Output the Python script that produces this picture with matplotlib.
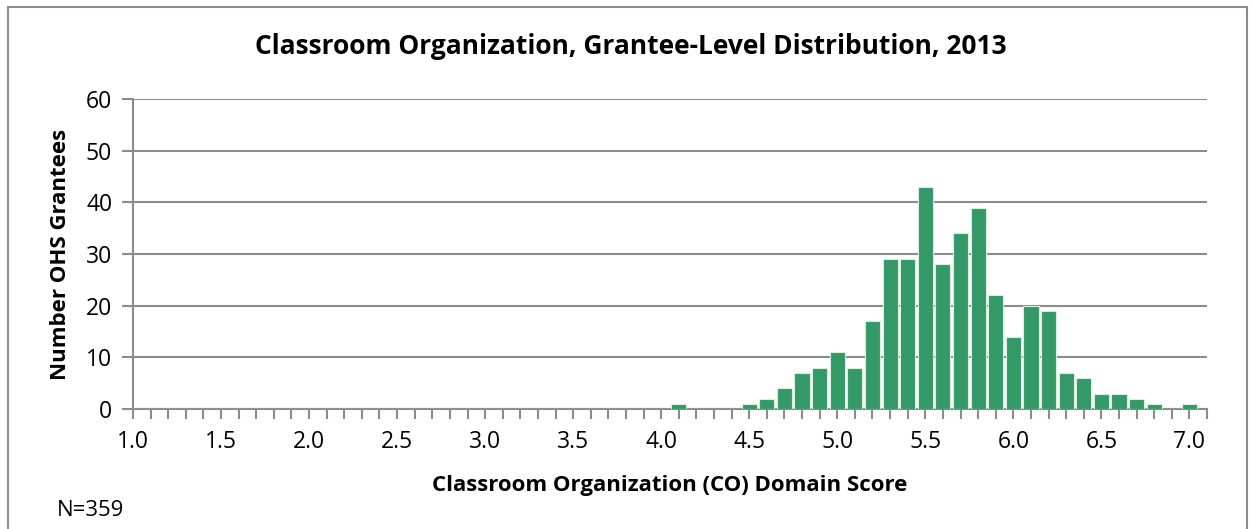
import matplotlib
matplotlib.use("Agg")
import matplotlib.pyplot as plt
from matplotlib.patches import Rectangle
import numpy as np

plt.rcParams['font.family'] = ['Open Sans', 'DejaVu Sans']

scores = [round(1.0 + 0.1 * i, 1) for i in range(61)]
counts_nonzero = {4.1: 1, 4.5: 1, 4.6: 2, 4.7: 4, 4.8: 7, 4.9: 8, 5.0: 11, 5.1: 8,
                  5.2: 17, 5.3: 29, 5.4: 29, 5.5: 43, 5.6: 28, 5.7: 34, 5.8: 39,
                  5.9: 22, 6.0: 14, 6.1: 20, 6.2: 19, 6.3: 7, 6.4: 6, 6.5: 3,
                  6.6: 3, 6.7: 2, 6.8: 1, 6.9: 0, 7.0: 1}
counts = [counts_nonzero.get(s, 0) for s in scores]
xtick_labels = ["1.0", "1.5", "2.0", "2.5", "3.0", "3.5", "4.0", "4.5", "5.0", "5.5", "6.0", "6.5", "7.0"]
yticks = [0, 10, 20, 30, 40, 50, 60]

W, H = 1252, 529
fig = plt.figure(figsize=(W / 100, H / 100), dpi=100)
ax = fig.add_axes([133 / W, 1 - 409 / H, (1207 - 133) / W, (409 - 99) / H])

grid_c = '#8c8c8c'
ax.bar(scores, counts, width=0.086, color='#339966', edgecolor='#d8eee0', linewidth=0.8, zorder=3)
ax.set_xlim(1.0, 7.1)
ax.set_ylim(0, 60)
ax.set_yticks(yticks)
ax.set_yticklabels([str(v) for v in yticks], fontsize=16.5)
ax.yaxis.grid(True, color=grid_c, linewidth=1.5, zorder=0)
ax.set_xticks([1.0 + 0.5 * i for i in range(13)])
ax.set_xticklabels(xtick_labels, fontsize=16.5)
ax.set_xticks(np.arange(0, 62) * 0.1 + 1.0, minor=True)
ax.tick_params(axis='x', which='minor', length=7, color=grid_c, width=1.5, direction='out')
ax.tick_params(axis='x', which='major', length=7, color=grid_c, width=1.5, direction='out', pad=8)
ax.tick_params(axis='y', length=8, color=grid_c, width=1.5, pad=7)
for s in ['top', 'right']:
    ax.spines[s].set_visible(False)
for s in ['left', 'bottom']:
    ax.spines[s].set_color(grid_c)
    ax.spines[s].set_linewidth(1.5)

fig.text(631 / W, 1 - 47 / H, "Classroom Organization, Grantee-Level Distribution, 2013",
         fontsize=19, fontweight='bold', ha='center', va='center')
fig.text(670 / W, 1 - 485 / H, "Classroom Organization (CO) Domain Score",
         fontsize=16, fontweight='bold', ha='center', va='center')
fig.text(61 / W, 1 - 254 / H, "Number OHS Grantees", rotation=90,
         fontsize=16, fontweight='bold', ha='center', va='center')
fig.text(57 / W, 1 - 511 / H, "N=359", fontsize=16, ha='left', va='center')

fig.patches.append(Rectangle((8 / W, -0.1), (1247 - 8) / W, 1 - 7 / H + 0.1,
                             transform=fig.transFigure, fill=False,
                             edgecolor='#8c8c8c', linewidth=1.5))
fig.savefig("out.png", dpi=100)
